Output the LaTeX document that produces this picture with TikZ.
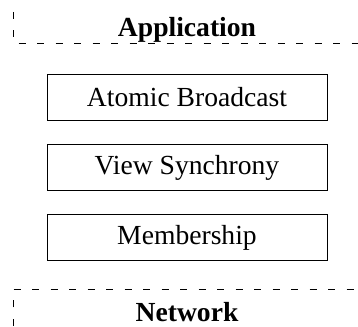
\documentclass[tikz,border=0pt]{standalone}
\usepackage{fontspec}
\setmainfont{Liberation Serif}
\usepackage{tikz}
\usetikzlibrary{
  positioning
}
\tikzset{
  layerbox/.style={draw, line width=1pt, minimum width=280pt, minimum height=46pt, inner sep=0pt},
  frameline/.style={line width=1pt, dash pattern=on 7pt off 11.5pt},
}

\begin{document}
\begin{tikzpicture}[x=1pt, y=1pt, font=\fontsize{27.6}{33}\selectfont]
  \useasboundingbox (0, 0) rectangle (358, 326);

  % Application frame
  \draw[frameline] (13, 314) -- (13, 282.5) -- (358, 282.5);
  \node[font=\fontsize{27.6}{33}\selectfont\bfseries] (appl) at (187, 296.5) {Application};

  % Protocol layers
  \node[layerbox] (ab) at (187, 228.5) {Atomic Broadcast};
  \node[layerbox, below=23pt of ab] (vs) {View Synchrony};
  \node[layerbox, below=23pt of vs] (mem) {Membership};

  % Network frame
  \draw[frameline] (13, 0) -- (13, 36.5) -- (358, 36.5);
  \node[font=\fontsize{27.6}{33}\selectfont\bfseries] (net) at (187, 14) {Network};
\end{tikzpicture}
\end{document}
